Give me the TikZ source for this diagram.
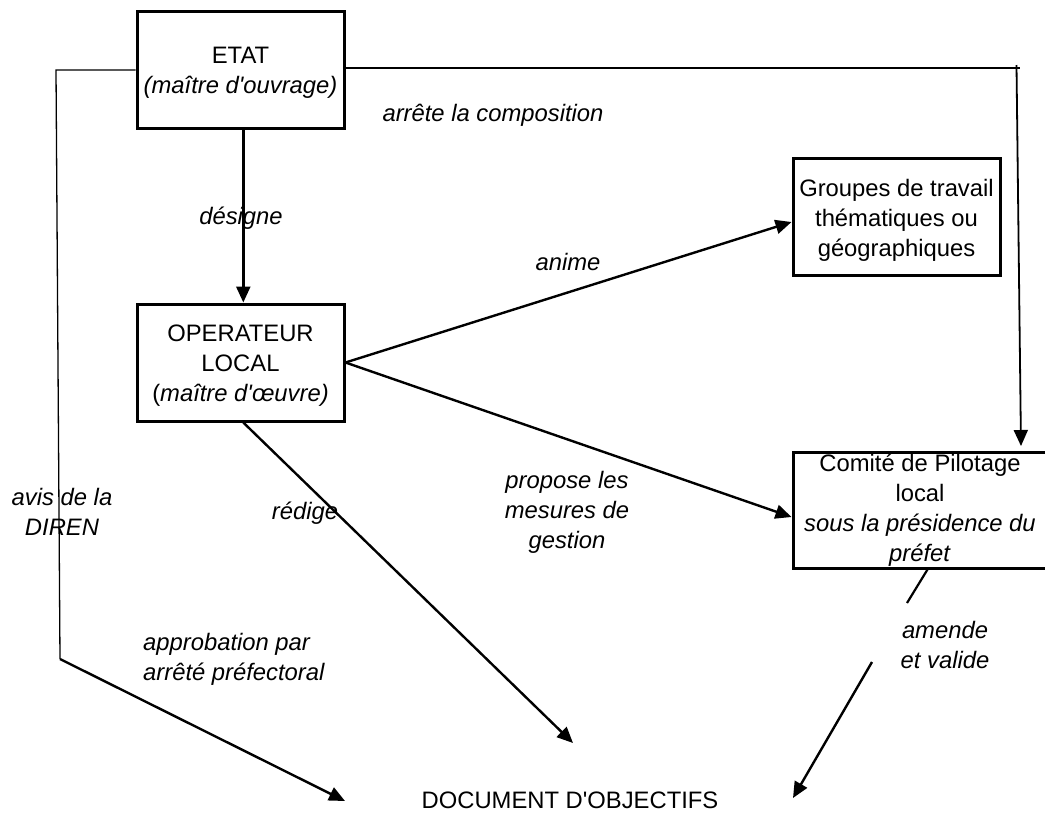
\documentclass[tikz,border=0pt]{standalone}
\usepackage{fontspec}
\setmainfont{Liberation Sans}
\usetikzlibrary{arrows.meta}
\newcommand\myap{\textquotesingle}
\begin{document}
\begin{tikzpicture}[x=1pt,y=-1pt,
  box/.style={draw, line width=3pt, inner sep=0pt},
  lbl/.style={inner sep=0pt, align=center, font=\fontsize{23.8}{30}\selectfont\itshape},
  txt/.style={inner sep=0pt, align=center, font=\fontsize{23.8}{30}\selectfont},
  arr/.style={line width=2.4pt, -{Triangle[length=16pt,width=14pt]}},
  thinline/.style={line width=1.3pt},
]
\useasboundingbox (0,0) rectangle (1045,812);

% boxes
\node[box, minimum width=207pt, minimum height=117pt] (etat) at (240.5,69.5) {};
\node[txt] (etattxt) at ([yshift=-3.5pt]etat.center)
  {ETAT\\\textit{(maître d\myap ouvrage)}};
\node[box, minimum width=207pt, minimum height=117pt] (oper) at (240.5,362.5) {};
\node[txt] (opertxt) at ([yshift=-3pt]oper.center)
  {OPERATEUR\\LOCAL\\(\textit{maître d\myap œuvre)}};
\node[box, minimum width=207pt, minimum height=117pt] (grp) at (896.5,216.5) {};
\node[txt] (grptxt) at ([yshift=-3.5pt]grp.center)
  {Groupes de travail\\thématiques ou\\géographiques};
\node[box, minimum width=257pt, minimum height=116pt] (com) at (921.5,510) {};
\node[txt] (comtxt) at (920,510.5)
  {Comité de Pilotage\\local\\\textit{sous la présidence du}\\\textit{préfet}};
\node[txt] (doc) at (570,800.5) {DOCUMENT D\myap OBJECTIFS};

% free-end coordinates
\coordinate (d1) at (345,801);
\coordinate (d2) at (573,743);
\coordinate (d3) at (793,798);
\coordinate (r2) at (1021,446);
\coordinate (l1) at (56,70);
\coordinate (l2) at (60,659);
\coordinate (a2) at (907,603);
\coordinate (a3) at (872,662);

% connectors
\draw[arr] ([xshift=2.8pt]etat.south) -- ([xshift=2.8pt]oper.north);
\draw[arr] (oper.east) -- ([yshift=-5.5pt]grp.west);
\draw[arr] (oper.east) -- ([yshift=-7pt]com.west);
\draw[arr] ([xshift=2.8pt]oper.south) -- (d2);
\draw[thinline] ([yshift=1.5pt]etat.east) -- (1020,68);
\draw[arr, line width=1.8pt] (1016.5,65) -- (r2);
\draw[thinline] ([yshift=-0.5pt]etat.west) -- (l1) -- (l2);
\draw[arr] (l2) -- (d1);
\draw[line width=2.2pt] ([xshift=6pt]com.south) -- (a2);
\draw[arr] (a3) -- (d3);

% labels
\node[lbl] (l-des) at (241,218) {désigne};
\node[lbl] (l-arr) at (493,115) {arrête la composition};
\node[lbl] (l-ani) at (568,262) {anime};
\node[lbl] (l-pro) at (567,512) {propose les\\mesures de\\gestion};
\node[lbl] (l-red) at (305,513) {rédige};
\node[lbl] (l-avis) at (62,512) {avis de la\\DIREN};
\node[lbl, align=left, anchor=west] (l-app) at (143,659) {approbation par\\arrêté préfectoral};
\node[lbl] (l-ame) at (945,645) {amende\\et valide};
\end{tikzpicture}
\end{document}
